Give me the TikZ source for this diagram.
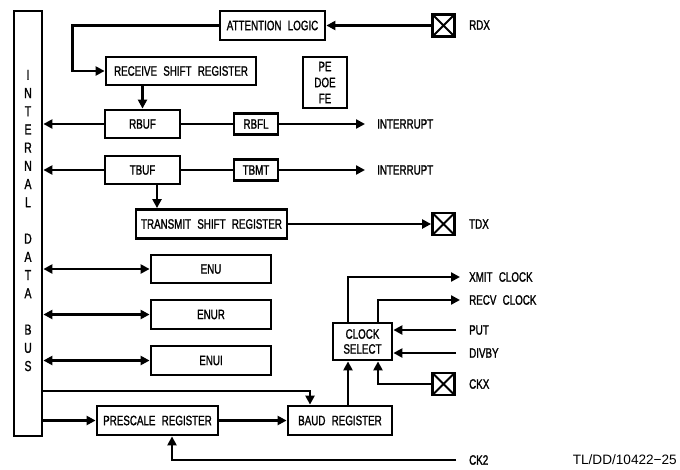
\documentclass[tikz,border=0pt]{standalone}
\usepackage{fontspec}
\setmainfont{Liberation Sans}
\newfontfamily\condfont{Liberation Sans}[FakeStretch=0.72,WordSpace=2.3,FakeBold=1.3]
\newfontfamily\plainfont{Liberation Sans}
\newcommand\labfont{\condfont\fontsize{13.6}{15}\selectfont}
\usetikzlibrary{arrows.meta}
\begin{document}
\begin{tikzpicture}[x=1pt,y=-1pt,
  box/.style={draw, line width=2.8pt, inner sep=0pt, align=center, font=\labfont},
  conn/.style={line width=2.3pt},
  arr/.style={conn, -{Triangle[length=9pt,width=9pt]}},
  darr/.style={conn, {Triangle[length=9pt,width=9pt]}-{Triangle[length=9pt,width=9pt]}},
  pin/.style={draw, line width=2.8pt, minimum size=22pt, inner sep=0pt,
    path picture={\draw[line width=2pt] (path picture bounding box.south west) -- (path picture bounding box.north east)
      (path picture bounding box.north west) -- (path picture bounding box.south east);}},
  lbl/.style={anchor=west, font=\labfont, inner sep=0pt}]
\useasboundingbox (0,0) rectangle (680,469);
% bus
\node[box, minimum width=28pt, minimum height=425pt] (bus) at (28,223.5) {};
\node[font=\condfont\fontsize{14.5}{18.2}\selectfont, align=center, inner sep=0pt] (bustext) at (28,220.5)
  {I\\N\\T\\E\\R\\N\\A\\L\\[18.2pt]D\\A\\T\\A\\[18.2pt]B\\U\\S};
% boxes
\node[box, minimum width=105pt, minimum height=29pt] (attn) at (272.5,25.5) {ATTENTION LOGIC};
\node[box, minimum width=150pt, minimum height=28pt] (rsr) at (181,71) {RECEIVE SHIFT REGISTER};
\node[box, minimum width=75pt, minimum height=28pt] (rbuf) at (142.5,124) {RBUF};
\node[box, minimum width=44pt, minimum height=21pt] (rbfl) at (256,124) {RBFL};
\node[box, minimum width=44pt, minimum height=51pt, font=\condfont\fontsize{13.6}{16}\selectfont] (pe) at (325,82.5) {PE\\DOE\\FE};
\node[box, minimum width=75pt, minimum height=28pt] (tbuf) at (142.5,170) {TBUF};
\node[box, minimum width=44pt, minimum height=21pt] (tbmt) at (256,170) {TBMT};
\node[box, minimum width=151pt, minimum height=29pt] (tsr) at (211.5,224) {TRANSMIT SHIFT REGISTER};
\node[box, minimum width=120pt, minimum height=28pt] (enu) at (211,269) {ENU};
\node[box, minimum width=120pt, minimum height=29pt] (enur) at (211,314.5) {ENUR};
\node[box, minimum width=120pt, minimum height=29pt] (enui) at (211,360.5) {ENUI};
\node[box, minimum width=121pt, minimum height=29pt] (pre) at (157.5,420.5) {PRESCALE REGISTER};
\node[box, minimum width=104pt, minimum height=29pt] (baud) at (340,420.5) {BAUD REGISTER};
\node[box, minimum width=59pt, minimum height=37pt, font=\condfont\fontsize{13.6}{15}\selectfont] (clk) at (362.5,341.5) {CLOCK\\SELECT};
% pins
\node[pin] (rdx) at (443.5,25.5) {};
\node[pin] (tdx) at (443.5,224) {};
\node[pin] (ckx) at (443.5,384) {};
% labels
\node[lbl] (rdxl) at (469,25) {RDX};
\node[lbl] (tdxl) at (469,224) {TDX};
\node[lbl] (int1l) at (377,124) {INTERRUPT};
\node[lbl] (int2l) at (377,170) {INTERRUPT};
\node[lbl] (xml) at (469,277) {XMIT CLOCK};
\node[lbl] (rcl) at (469,300) {RECV CLOCK};
\node[lbl] (putl) at (469,330) {PUT};
\node[lbl] (dvl) at (469,353) {DIVBY};
\node[lbl] (ckxl) at (469,384) {CKX};
\node[lbl] (ck2l) at (469,460) {CK2};
\node[anchor=east, inner sep=0pt, font=\plainfont\fontsize{13.6}{15}\selectfont] (ref) at (677,460) {TL/DD/10422−25};
% coordinates
\coordinate (int1) at (365,124);
\coordinate (int2) at (365,170);
\coordinate (b1) at (310,391);
\coordinate (ck2) at (456,460);
\coordinate (xm) at (460,277);
\coordinate (rc) at (460,300);
\coordinate (put) at (456,330);
\coordinate (dv) at (456,353);
% connectors
\draw[arr] (rdx.west) -- (attn.east);
\draw[arr] (attn.west) -- ++(-146,0) |- (rsr.west);
\draw[arr] (rsr.south -| rbuf.north) -- (rbuf.north);
\draw[arr] (rbuf.west) -- (rbuf.west -| bus.east);
\draw[conn] (rbuf.east) -- (rbfl.west);
\draw[arr] (rbfl.east) -- (int1);
\draw[arr] (tbuf.west) -- (tbuf.west -| bus.east);
\draw[conn] (tbuf.east) -- (tbmt.west);
\draw[arr] (tbmt.east) -- (int2);
\draw[arr] ([xshift=14.5pt]tbuf.south) -- ([xshift=14.5pt]tbuf.south |- tsr.north);
\draw[arr] (tsr.east) -- (tdx.west);
\draw[darr] (enu.west -| bus.east) -- (enu.west);
\draw[darr] (enur.west -| bus.east) -- (enur.west);
\draw[darr] (enui.west -| bus.east) -- (enui.west);
\draw[arr] (b1 -| bus.east) -- (b1) -- (b1 |- baud.north);
\draw[arr] (pre.west -| bus.east) -- (pre.west);
\draw[arr] (pre.east) -- (baud.west);
\draw[arr] (ck2) -| ([xshift=14.5pt]pre.south);
\draw[arr] ([xshift=8pt]baud.north) -- ([xshift=8pt]baud.north |- clk.south);
\draw[arr] ([xshift=-14.5pt]clk.north) |- (xm);
\draw[arr] ([xshift=15.5pt]clk.north) |- (rc);
\draw[arr] (put) -- (put -| clk.east);
\draw[arr] (dv) -- (dv -| clk.east);
\draw[arr] (ckx.west) -| ([xshift=15.5pt]clk.south);
\end{tikzpicture}
\end{document}
